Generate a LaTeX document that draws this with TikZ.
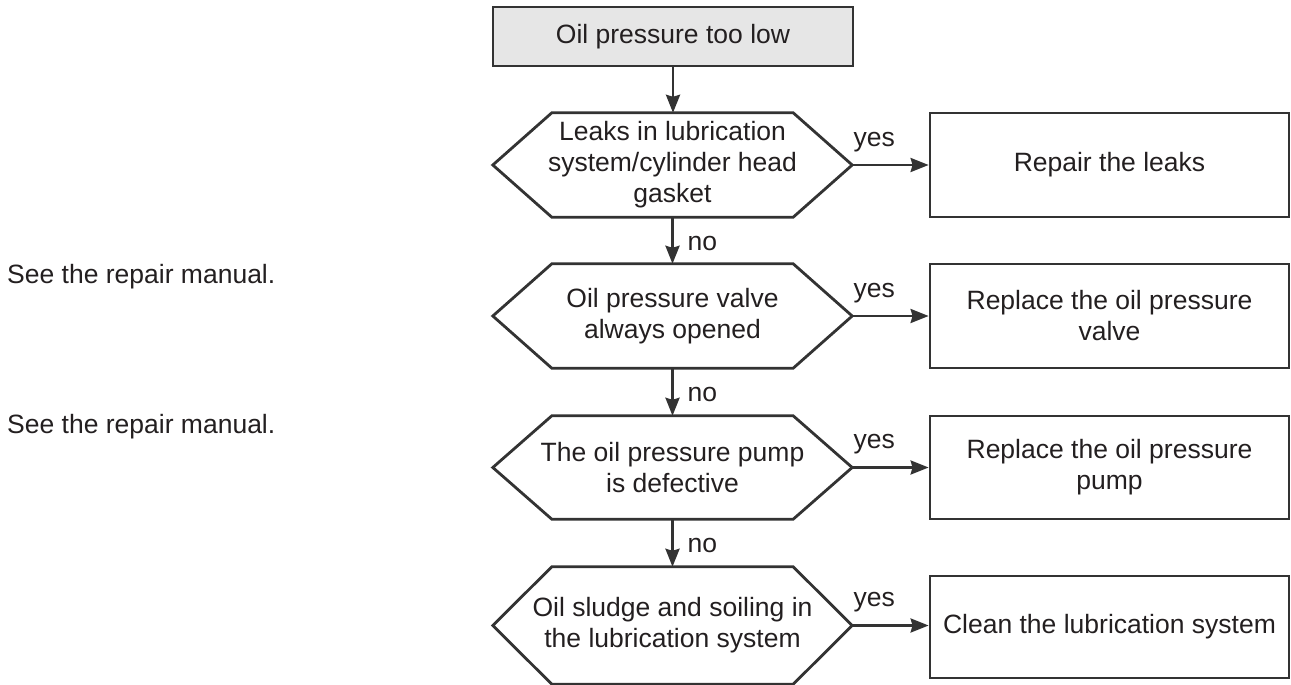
\documentclass[tikz,border=0pt]{standalone}
\usepackage{fontspec}
\setmainfont{Liberation Sans}
\usetikzlibrary{arrows.meta,calc}
\definecolor{ln}{HTML}{333333}
\definecolor{tx}{HTML}{231F20}
\definecolor{startfill}{HTML}{E6E6E6}
\begin{document}
\begin{tikzpicture}[x=1pt,y=-1pt,
  every node/.style={text=tx, font=\fontsize{26.5}{31}\selectfont},
  startbox/.style={draw=ln, line width=2.8pt, fill=startfill, minimum width=360pt, minimum height=59pt, inner sep=0pt},
  actbox/.style={draw=ln, line width=2.8pt, minimum width=359pt, inner sep=0pt, align=center},
  hexnode/.style={minimum width=359pt, inner sep=0pt, align=center},
  hexline/.style={draw=ln, line width=2.8pt, line join=miter},
  arr/.style={draw=ln, line width=2.8pt, -{Stealth[length=18pt,width=14pt,inset=2pt]}},
  lab/.style={inner sep=0pt}]
\useasboundingbox (0,0) rectangle (1291,685);

\node[startbox] (s) at (673,36.5) {Oil pressure too low};

\node[hexnode, minimum height=104pt] (h1) at (672.5,165) {Leaks in lubrication\\system/cylinder head\\gasket};
\node[hexnode, minimum height=104pt] (h2) at (672.5,316) {Oil pressure valve\\always opened};
\node[hexnode, minimum height=103pt] (h3) at (672.5,467.5) {The oil pressure pump\\is defective};
\node[hexnode, minimum height=117pt] (h4) at (672.5,625.5) {Oil sludge and soiling in\\the lubrication system};

\foreach \h in {h1,h2,h3,h4}{
  \draw[hexline] (\h.west) -- ([xshift=59pt]\h.north west) -- ([xshift=-59pt]\h.north east) -- (\h.east) -- ([xshift=-59pt]\h.south east) -- ([xshift=59pt]\h.south west) -- cycle;
}

\node[actbox, minimum height=104pt] (b1) at (1109.5,165) {Repair the leaks};
\node[actbox, minimum height=104pt] (b2) at (1109.5,316) {Replace the oil pressure\\valve};
\node[actbox, minimum height=103pt] (b3) at (1109.5,467.5) {Replace the oil pressure\\pump};
\node[actbox, minimum height=102pt] (b4) at (1109.5,627) {Clean the lubrication system};

\node[lab, anchor=base west] (m1) at (7,283) {See the repair manual.};
\node[lab, anchor=base west] (m2) at (7,433) {See the repair manual.};

\draw[arr] (s.south) -- (s.south |- h1.north);
\draw[arr] (h1.south) -- (h2.north);
\draw[arr] (h2.south) -- (h3.north);
\draw[arr] (h3.south) -- (h4.north);

\foreach \h/\b in {h1/b1,h2/b2,h3/b3,h4/b4}{
  \draw[arr] (\h.east) -- (\h.east -| \b.west);
  \node[lab, anchor=base] at ([xshift=22pt,yshift=19pt]\h.east) {yes};
}

\node[lab, anchor=base west] (n1) at ($(h1.south)!0.5!(h2.north)+(15,9.5)$) {no};
\node[lab, anchor=base west] (n2) at ($(h2.south)!0.5!(h3.north)+(15,9.5)$) {no};
\node[lab, anchor=base west] (n3) at ($(h3.south)!0.5!(h4.north)+(15,9.5)$) {no};
\end{tikzpicture}
\end{document}
